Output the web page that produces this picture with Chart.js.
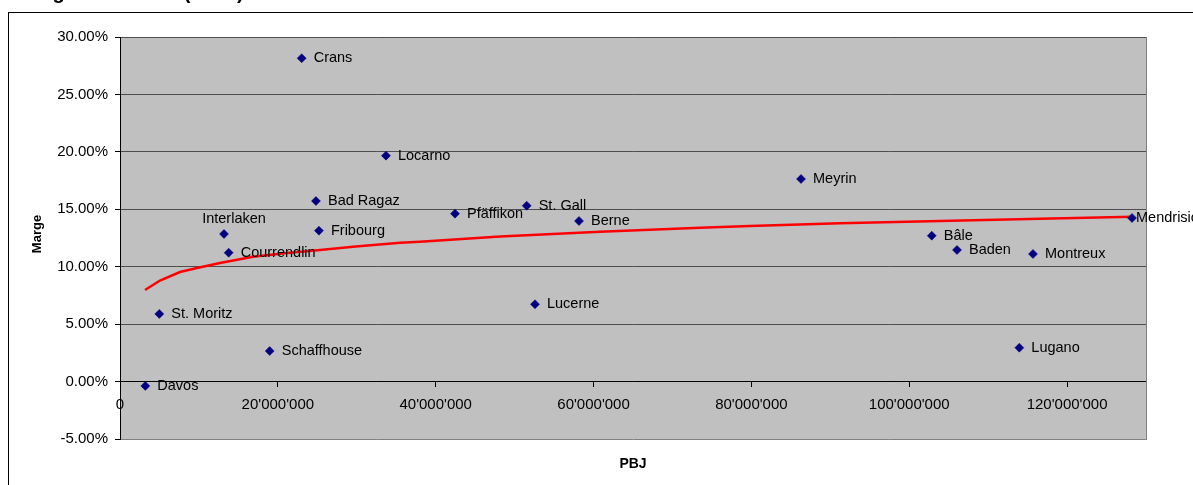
<!DOCTYPE html>
<html>
<head>
<meta charset="utf-8">
<script src="https://cdn.jsdelivr.net/npm/chart.js@4"></script>
<style>
  html, body { margin: 0; padding: 0; background: #fff; overflow: hidden; }
  #wrap { width: 1193px; height: 485px; }
</style>
</head>
<body>
<div id="wrap"><canvas id="graphique" width="1193" height="485"></canvas></div>
<script>
// Villes et valeurs (PBJ en CHF, marge en %)
const villes = ["Crans", "Locarno", "Bad Ragaz", "Interlaken", "Fribourg", "Courrendlin",
  "Pfäffikon", "St. Gall", "Berne", "Meyrin", "Bâle", "Baden", "Montreux", "Mendrisio",
  "Lucerne", "Lugano", "St. Moritz", "Schaffhouse", "Davos"];
const pbj = [23020000, 33700000, 24830000, 13180000, 25210000, 13770000,
  42450000, 51530000, 58160000, 86290000, 102850000, 106050000, 115680000, 128230000,
  52580000, 113950000, 4980000, 18970000, 3210000];
const marge = [28.15, 19.67, 15.72, 12.85, 13.14, 11.22,
  14.62, 15.31, 13.98, 17.64, 12.70, 11.46, 11.11, 14.24,
  6.73, 2.95, 5.89, 2.66, -0.38];

// Courbe de tendance
const tendanceX = [3170000, 5070000, 7600000, 9760000, 12670000, 16850000, 21160000, 25340000,
  29520000, 35480000, 38010000, 48150000, 60820000, 73490000, 79820000, 91230000,
  103900000, 116570000, 128350000];
const tendanceY = [7.97, 8.80, 9.54, 9.89, 10.33, 10.87, 11.20, 11.46,
  11.74, 12.09, 12.18, 12.62, 13.05, 13.40, 13.55, 13.78,
  13.98, 14.18, 14.36];

// Graduations
const xTicks = [0, 20000000, 40000000, 60000000, 80000000, 100000000, 120000000];
const yTicks = [-5, 0, 5, 10, 15, 20, 25, 30];
const xMin = 0, xMax = 130000000;

// Position des étiquettes
const placement = { "Interlaken": "dessus", "Mendrisio": "proche" };

const police = '"Liberation Sans", Arial, sans-serif';

function milliers(n) {
  return String(Math.round(n)).replace(/\B(?=(\d{3})+(?!\d))/g, "'");
}

const decor = {
  id: "decor",
  beforeDraw(chart) {
    const { ctx, chartArea: a } = chart;
    ctx.save();
    ctx.fillStyle = "#fff";
    ctx.fillRect(0, 0, chart.width, chart.height);
    // titre (coupé en haut)
    ctx.fillStyle = "#000";
    ctx.font = "bold 20px " + police;
    ctx.textBaseline = "alphabetic";
    ctx.fillText("Marge selon PBJ (en %)", 17, -1);
    // cadre
    ctx.strokeStyle = "#000";
    ctx.lineWidth = 1;
    ctx.strokeRect(8.5, 12.5, 1400, 600);
    // fond gris
    ctx.fillStyle = "#C0C0C0";
    ctx.fillRect(a.left, a.top, a.right - a.left, a.bottom - a.top);
    ctx.restore();
  },
  beforeDatasetsDraw(chart) {
    const { ctx, chartArea: a } = chart;
    ctx.save();
    ctx.strokeStyle = "#808080";
    ctx.lineWidth = 1;
    ctx.beginPath();
    ctx.moveTo(a.right + 0.5, a.top);
    ctx.lineTo(a.right + 0.5, a.bottom + 1);
    ctx.stroke();
    ctx.restore();
  },
  afterDatasetsDraw(chart) {
    const { ctx, chartArea: a } = chart;
    const pts = chart.getDatasetMeta(0).data;
    ctx.save();
    ctx.fillStyle = "#000";
    ctx.font = "14.5px " + police;
    pts.forEach((p, i) => {
      const nom = villes[i];
      const mode = placement[nom];
      ctx.textBaseline = "middle";
      if (mode === "dessus") {
        ctx.textAlign = "center";
        ctx.fillText(nom, p.x + 10, p.y - 15);
      } else if (mode === "proche") {
        ctx.textAlign = "left";
        ctx.fillText(nom, p.x + 4, p.y);
      } else {
        ctx.textAlign = "left";
        ctx.fillText(nom, p.x + 12, p.y);
      }
    });
    // titres des axes
    ctx.font = "bold 14px " + police;
    ctx.textAlign = "center";
    ctx.textBaseline = "middle";
    ctx.fillText("PBJ", (a.left + a.right) / 2, 464);
    ctx.save();
    ctx.translate(37, (a.top + a.bottom) / 2 - 4);
    ctx.rotate(-Math.PI / 2);
    ctx.font = "bold 13px " + police;
    ctx.fillText("Marge", 0, 0);
    ctx.restore();
    ctx.restore();
  }
};

new Chart(document.getElementById("graphique"), {
  type: "scatter",
  data: {
    datasets: [
      {
        label: "Marge",
        data: pbj.map((x, i) => ({ x: x, y: marge[i] })),
        pointStyle: "rectRot",
        pointRadius: 4.5,
        backgroundColor: "#000080",
        borderColor: "#000080",
        borderWidth: 0.5
      },
      {
        label: "Tendance",
        data: tendanceX.map((x, i) => ({ x: x, y: tendanceY[i] })),
        showLine: true,
        pointRadius: 0,
        borderColor: "#FF0000",
        borderWidth: 2.5,
        tension: 0
      }
    ]
  },
  options: {
    responsive: false,
    devicePixelRatio: 1,
    animation: false,
    layout: { padding: { left: 0, top: 37, right: 47, bottom: 46 } },
    plugins: {
      legend: { display: false },
      tooltip: { enabled: false }
    },
    scales: {
      x: {
        type: "linear",
        min: xMin,
        max: xMax,
        position: { y: 0 },
        afterBuildTicks: s => { s.ticks = xTicks.map(v => ({ value: v })); },
        ticks: {
          color: "#000",
          font: { family: police, size: 15 },
          padding: 9,
          maxRotation: 0,
          autoSkip: false,
          callback: v => milliers(v)
        },
        grid: { drawOnChartArea: false, drawTicks: true, tickLength: 5, tickColor: "#000" },
        border: { color: "#000", width: 1 }
      },
      y: {
        min: yTicks[0],
        max: yTicks[yTicks.length - 1],
        afterFit: s => { s.width = 120; },
        afterBuildTicks: s => { s.ticks = yTicks.map(v => ({ value: v })); },
        ticks: {
          color: "#000",
          font: { family: police, size: 15 },
          padding: 7,
          autoSkip: false,
          callback: v => v.toFixed(2) + "%"
        },
        grid: {
          color: c => (c.tick && c.tick.value === yTicks[0] ? "#808080" : "#4d4d4d"),
          lineWidth: 1,
          tickLength: 5,
          tickColor: "#000"
        },
        border: { color: "#000", width: 1 }
      }
    }
  },
  plugins: [decor]
});
</script>
</body>
</html>
